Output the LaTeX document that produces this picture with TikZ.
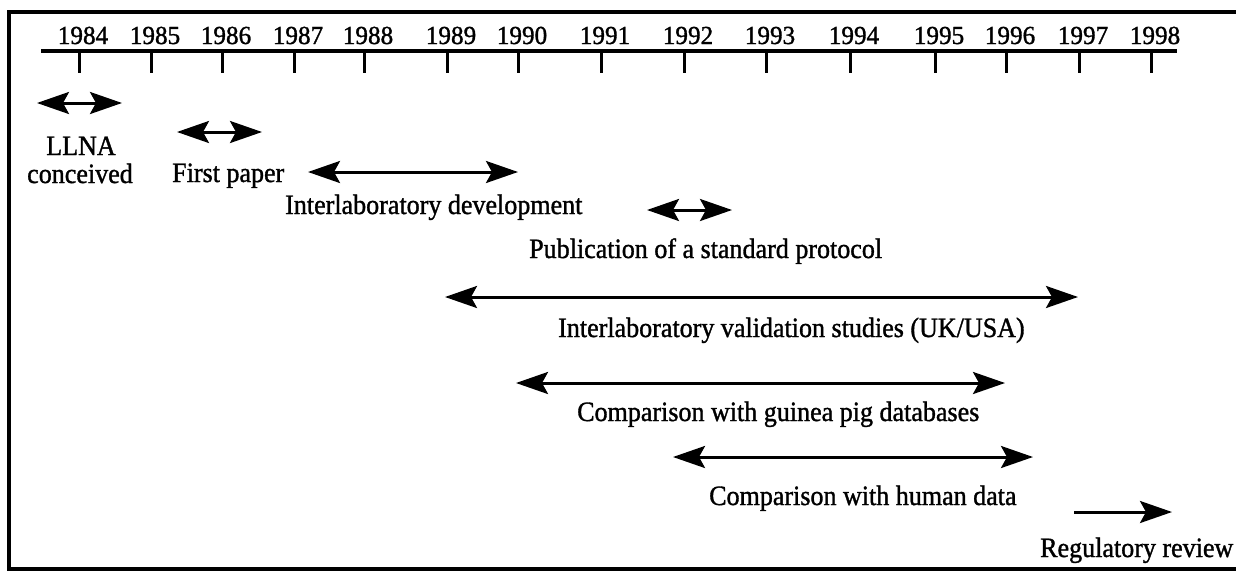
\documentclass[tikz,border=0pt]{standalone}
\usepackage{fontspec}
\setmainfont{Liberation Serif}
\newfontfamily\lblfont[FakeStretch=0.93,FakeBold=1.2]{Liberation Serif}
\newfontfamily\yrfont[FakeStretch=0.97,FakeBold=1.2]{Liberation Serif}
\usetikzlibrary{arrows.meta}
\tikzset{
  yr/.style={anchor=base, inner sep=0pt, font=\yrfont\fontsize{26}{28}\selectfont},
  lbl/.style={anchor=base west, inner sep=0pt, font=\lblfont\fontsize{28}{30}\selectfont},
  clbl/.style={anchor=base, inner sep=0pt, font=\lblfont\fontsize{28}{30}\selectfont},
  span/.style={line width=3pt, {Stealth[length=32pt,width=22pt,inset=6pt]}-{Stealth[length=32pt,width=22pt,inset=6pt]}},
  onearrow/.style={line width=3pt, -{Stealth[length=32pt,width=22pt,inset=6pt]}},
  tick/.style={line width=3pt},
  frameline/.style={line width=3.5pt}
}
\begin{document}
\begin{tikzpicture}[x=1pt,y=-1pt]
\useasboundingbox (0,0) rectangle (1236,571);
% frame
\coordinate (fTR) at (1240,12);
\coordinate (fTL) at (9,12);
\coordinate (fBL) at (9,569);
\coordinate (fBR) at (1240,569);
\draw[frameline] (fTR) -- (fTL) -- (fBL) -- (fBR);
% axis
\coordinate (axL) at (41,51);
\coordinate (axR) at (1177,51);
\draw[line width=3.5pt] (axL) -- (axR);
\foreach \yv/\xv in {1984/79,1985/151,1986/222,1987/294,1988/364,1989/447,1990/518,1991/601,1992/684,1993/766,1994/850,1995/935,1996/1006,1997/1079,1998/1151}{
  \coordinate (t\yv) at (\xv,51);
  \coordinate (b\yv) at (\xv,73);
  \draw[tick] (t\yv) -- (b\yv);
  \node[yr] (y\yv) at (\xv+4,44) {\yv};
}
% LLNA conceived
\coordinate (a1L) at (37,103); \coordinate (a1R) at (122,103);
\draw[span] (a1L) -- (a1R);
\node[clbl] (l1a) at (81,155) {LLNA};
\node[clbl] (l1b) at (80,183) {conceived};
% First paper
\coordinate (a2L) at (177,132); \coordinate (a2R) at (262,132);
\draw[span] (a2L) -- (a2R);
\node[lbl] (l2) at (172,182) {First paper};
% Interlaboratory development
\coordinate (a3L) at (308,172); \coordinate (a3R) at (518,172);
\draw[span] (a3L) -- (a3R);
\node[lbl] (l3) at (285,214) {Interlaboratory development};
% Publication
\coordinate (a4L) at (647,210); \coordinate (a4R) at (732,210);
\draw[span] (a4L) -- (a4R);
\node[lbl] (l4) at (529,258) {Publication of a standard protocol};
% Validation
\coordinate (a5L) at (445,297); \coordinate (a5R) at (1078,297);
\draw[span] (a5L) -- (a5R);
\node[lbl] (l5) at (558,337) {Interlaboratory validation studies (UK/USA)};
% Guinea pig
\coordinate (a6L) at (516,383); \coordinate (a6R) at (1005,383);
\draw[span] (a6L) -- (a6R);
\node[lbl] (l6) at (577,421) {Comparison with guinea pig databases};
% Human data
\coordinate (a7L) at (673,457); \coordinate (a7R) at (1033,457);
\draw[span] (a7L) -- (a7R);
\node[lbl] (l7) at (709,505) {Comparison with human data};
% Regulatory review
\coordinate (a8L) at (1074,512); \coordinate (a8R) at (1172,512);
\draw[onearrow] (a8L) -- (a8R);
\node[lbl] (l8) at (1040,557) {Regulatory review};
\end{tikzpicture}
\end{document}
